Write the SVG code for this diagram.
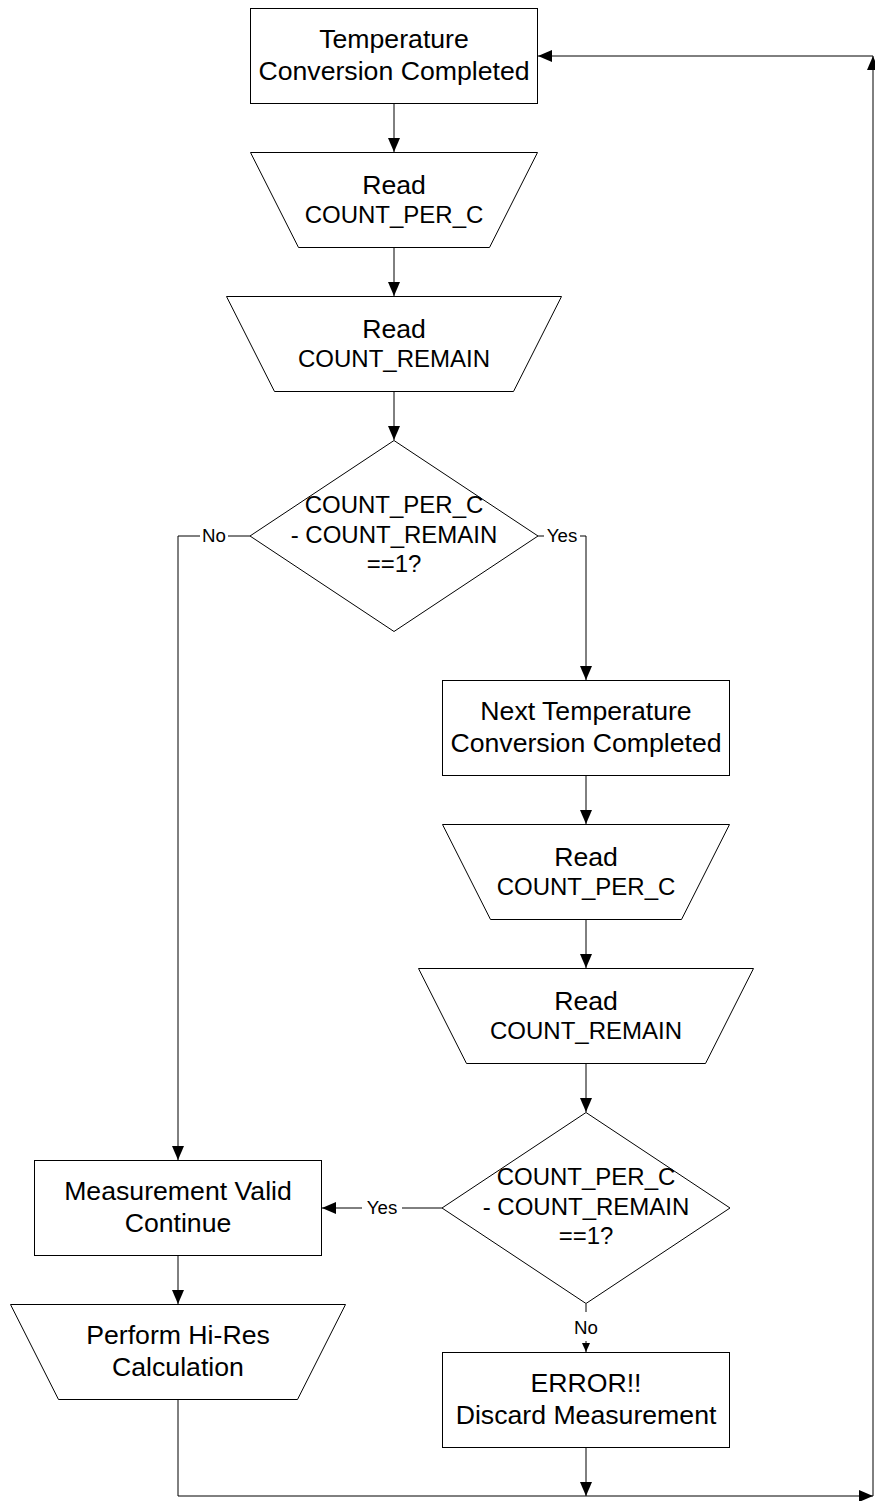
<svg xmlns="http://www.w3.org/2000/svg" width="875" height="1501" viewBox="0 0 875 1501">
<style>
.s{fill:#fff;stroke:#000;stroke-width:1}
.c{fill:none;stroke:#000;stroke-width:1}
.t{font-family:"Liberation Sans",Arial,sans-serif;font-size:26.67px;fill:#000;text-anchor:middle}
.m{font-size:24px}
.l{font-family:"Liberation Sans",Arial,sans-serif;font-size:18.67px;fill:#000;text-anchor:middle}
.bg{fill:#fff;stroke:none}
</style>
<defs>
<marker id="a" viewBox="0 0 14 12" refX="14" refY="6" markerWidth="14" markerHeight="12" markerUnits="userSpaceOnUse" orient="auto">
<path d="M0,0 L14,6 L0,12 z" fill="#000"/>
</marker>
<marker id="as" viewBox="0 0 9 8" refX="9" refY="4" markerWidth="9" markerHeight="8" markerUnits="userSpaceOnUse" orient="auto">
<path d="M0,0 L9,4 L0,8 z" fill="#000"/>
</marker>
</defs>
<rect width="875" height="1501" fill="#fff"/>
<g id="connectors">
<path class="c" d="M394,104 V152" marker-end="url(#a)"/>
<path class="c" d="M394,248 V296" marker-end="url(#a)"/>
<path class="c" d="M394,392 V440" marker-end="url(#a)"/>
<path class="c" d="M250,536 H178 V1160" marker-end="url(#a)"/>
<path class="c" d="M538,536 H586 V680" marker-end="url(#a)"/>
<path class="c" d="M586,776 V824" marker-end="url(#a)"/>
<path class="c" d="M586,920 V968" marker-end="url(#a)"/>
<path class="c" d="M586,1064 V1112" marker-end="url(#a)"/>
<path class="c" d="M442,1208 H322" marker-end="url(#a)"/>
<path class="c" d="M586,1304 V1352" marker-end="url(#as)"/>
<path class="c" d="M178,1256 V1304" marker-end="url(#a)"/>
<path class="c" d="M178,1400 V1496 H873" marker-end="url(#a)"/>
<path class="c" d="M586,1448 V1496" marker-end="url(#a)"/>
<path class="c" d="M873,1496 V56" marker-end="url(#a)"/>
<path class="c" d="M873,56 H538" marker-end="url(#a)"/>
<rect class="bg" x="200" y="524" width="28" height="22"/>
<text class="l" x="214" y="542">No</text>
<rect class="bg" x="544" y="524" width="36" height="22"/>
<text class="l" x="562" y="542">Yes</text>
<rect class="bg" x="362" y="1196" width="40" height="22"/>
<text class="l" x="382" y="1214">Yes</text>
<rect class="bg" x="572" y="1312" width="28" height="29"/>
<text class="l" x="586" y="1334">No</text>
</g>
<g id="n1">
<rect class="s" x="250.5" y="8.5" width="287" height="95"/>
<text class="t" x="394" y="48">Temperature</text>
<text class="t" x="394" y="80">Conversion Completed</text>
</g>
<g id="n2">
<polygon class="s" points="250.5,152.5 537.5,152.5 489.5,247.5 298.5,247.5"/>
<text class="t" x="394" y="194">Read</text>
<text class="t m" x="394" y="223">COUNT_PER_C</text>
</g>
<g id="n3">
<polygon class="s" points="226.5,296.5 561.5,296.5 513.5,391.5 274.5,391.5"/>
<text class="t" x="394" y="338">Read</text>
<text class="t m" x="394" y="367">COUNT_REMAIN</text>
</g>
<g id="n4">
<polygon class="s" points="394,440.5 538,536 394,631.5 250,536"/>
<text class="t m" x="394" y="513">COUNT_PER_C</text>
<text class="t m" x="394" y="542.5">- COUNT_REMAIN</text>
<text class="t m" x="394" y="571.5">==1?</text>
</g>
<g id="n5">
<rect class="s" x="442.5" y="680.5" width="287" height="95"/>
<text class="t" x="586" y="720">Next Temperature</text>
<text class="t" x="586" y="752">Conversion Completed</text>
</g>
<g id="n6">
<polygon class="s" points="442.5,824.5 729.5,824.5 681.5,919.5 490.5,919.5"/>
<text class="t" x="586" y="866">Read</text>
<text class="t m" x="586" y="895">COUNT_PER_C</text>
</g>
<g id="n7">
<polygon class="s" points="418.5,968.5 753.5,968.5 705.5,1063.5 466.5,1063.5"/>
<text class="t" x="586" y="1010">Read</text>
<text class="t m" x="586" y="1039">COUNT_REMAIN</text>
</g>
<g id="n8">
<polygon class="s" points="586,1112.5 730,1208 586,1303.5 442,1208"/>
<text class="t m" x="586" y="1185">COUNT_PER_C</text>
<text class="t m" x="586" y="1214.5">- COUNT_REMAIN</text>
<text class="t m" x="586" y="1243.5">==1?</text>
</g>
<g id="n9">
<rect class="s" x="34.5" y="1160.5" width="287" height="95"/>
<text class="t" x="178" y="1200">Measurement Valid</text>
<text class="t" x="178" y="1232">Continue</text>
</g>
<g id="n10">
<polygon class="s" points="10.5,1304.5 345.5,1304.5 297.5,1399.5 58.5,1399.5"/>
<text class="t" x="178" y="1344">Perform Hi-Res</text>
<text class="t" x="178" y="1376">Calculation</text>
</g>
<g id="n11">
<rect class="s" x="442.5" y="1352.5" width="287" height="95"/>
<text class="t" x="586" y="1392">ERROR!!</text>
<text class="t" x="586" y="1424">Discard Measurement</text>
</g>
</svg>
